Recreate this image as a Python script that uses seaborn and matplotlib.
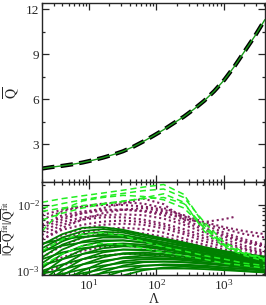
import numpy as np
import pandas as pd
import matplotlib
matplotlib.use("Agg")
import matplotlib.pyplot as plt
import seaborn as sns
from matplotlib.ticker import LogLocator, MultipleLocator, NullFormatter

# Lambda grid (top curve uses half powers of two, bottom curves powers of two)
lam_top = [2, 2.83, 4, 5.66, 8, 11.3, 16, 22.6, 32, 45.3, 64, 90.5, 128, 181,
           256, 362, 512, 724, 1024, 1448, 2048, 2896, 4096]
q_mean = [1.4, 1.5, 1.58, 1.68, 1.8, 1.95, 2.12, 2.32, 2.55, 2.85, 3.2, 3.58,
          3.98, 4.42, 4.85, 5.35, 5.9, 6.55, 7.3, 8.2, 9.2, 10.2, 11.3]

lam = [2, 4, 8, 16, 32, 64, 128, 256, 512, 1024, 2048, 4096]
lam_tail = [2, 4, 8, 16, 32, 64, 128, 256, 512, 1024, 1448]

# relative deviation, in units of 1e-3
light_dashed = [
    [11.0, 12.5, 13.8, 15.2, 16.8, 18.7, 20.5, 14.5, 5.0, 2.5, 1.8, 1.5],
    [5.9, 7.5, 9.0, 10.2, 11.3, 12.8, 14.8, 11.0, 4.0, 2.3, 1.7, 1.4],
    [8.0, 9.0, 9.8, 10.5, 11.5, 12.5, 13.0, 10.5, 4.5, 2.4, 1.8, 1.5],
    [4.0, 8.5, 11.5, 13.0, 14.0, 13.5, 12.0, 9.0, 4.5, 2.5, 1.8, 1.5],
    [9.0, 10.5, 12.0, 13.5, 15.0, 16.5, 17.5, 13.0, 5.5, 2.7, 1.9, 1.55],
    [2.0, 3.0, 3.6, 3.8, 3.4, 2.8, 2.3, 2.0, 1.7, 1.5, 1.3, 1.2],
    [1.2, 1.8, 2.4, 2.6, 2.5, 2.2, 1.9, 1.7, 1.5, 1.3, 1.2, 1.1],
]

purple_tail = [4.5, 6.0, 7.5, 9.0, 10.5, 12.5, 10.3, 6.1, 5.5, 6.1, 6.6]
purple_dotted = [
    [6.0, 8.0, 9.5, 10.5, 11.0, 10.5, 9.0, 7.0, 5.5, 4.6, 4.0, 3.6],
    [7.0, 8.5, 9.5, 10.0, 10.0, 9.5, 8.5, 6.8, 5.0, 3.8, 3.0, 2.5],
    [5.0, 7.0, 8.0, 8.5, 8.5, 8.0, 7.0, 5.5, 4.2, 3.3, 2.7, 2.3],
    [4.0, 5.5, 6.5, 7.0, 7.2, 7.0, 6.2, 5.0, 3.8, 3.0, 2.4, 2.0],
    [3.5, 5.0, 6.0, 6.5, 6.5, 6.0, 5.2, 4.3, 3.4, 2.7, 2.2, 1.9],
    [3.0, 4.2, 5.0, 5.6, 5.8, 5.5, 4.8, 3.9, 3.1, 2.5, 2.1, 1.8],
    [2.5, 3.5, 4.4, 5.0, 5.2, 5.0, 4.4, 3.6, 2.8, 2.3, 1.9, 1.7],
    [2.0, 3.0, 3.8, 4.3, 4.5, 4.3, 3.8, 3.1, 2.5, 2.1, 1.8, 1.6],
    [1.6, 2.4, 3.2, 3.7, 3.9, 3.7, 3.3, 2.8, 2.3, 1.9, 1.7, 1.5],
    [5.0, 6.5, 7.5, 8.2, 8.5, 8.2, 7.5, 6.5, 5.2, 4.3, 3.6, 3.2],
    [3.0, 4.5, 6.0, 7.5, 8.5, 9.0, 8.0, 6.0, 4.5, 3.5, 2.8, 2.4],
    [1.2, 1.6, 2.0, 2.3, 2.4, 2.3, 2.1, 1.9, 1.7, 1.5, 1.4, 1.3],
    [0.9, 1.2, 1.5, 1.7, 1.8, 1.8, 1.7, 1.6, 1.5, 1.4, 1.3, 1.2],
]

green_solid = [
    [2.5, 3.6, 4.5, 4.6, 4.2, 3.6, 3.1, 2.7, 2.3, 2.0, 1.8, 1.65],
    [2.2, 3.2, 4.0, 4.3, 4.0, 3.5, 3.0, 2.6, 2.2, 1.95, 1.75, 1.6],
    [1.9, 2.8, 3.6, 3.9, 3.8, 3.3, 2.9, 2.5, 2.15, 1.9, 1.7, 1.55],
    [1.6, 2.5, 3.2, 3.6, 3.5, 3.1, 2.7, 2.35, 2.05, 1.8, 1.6, 1.5],
    [1.3, 2.1, 2.8, 3.2, 3.2, 2.9, 2.55, 2.2, 1.95, 1.7, 1.55, 1.45],
    [1.1, 1.8, 2.4, 2.8, 2.9, 2.7, 2.4, 2.1, 1.85, 1.65, 1.5, 1.4],
    [0.9, 1.5, 2.1, 2.5, 2.6, 2.5, 2.25, 2.0, 1.75, 1.6, 1.45, 1.35],
    [0.7, 1.2, 1.8, 2.2, 2.35, 2.3, 2.1, 1.9, 1.7, 1.5, 1.4, 1.3],
    [0.6, 1.0, 1.5, 1.9, 2.1, 2.1, 1.95, 1.8, 1.6, 1.45, 1.35, 1.25],
    [0.5, 0.85, 1.25, 1.6, 1.85, 1.9, 1.8, 1.65, 1.5, 1.4, 1.3, 1.2],
    [0.5, 0.7, 1.0, 1.35, 1.6, 1.7, 1.65, 1.55, 1.45, 1.35, 1.25, 1.15],
    [0.5, 0.6, 0.85, 1.15, 1.4, 1.5, 1.5, 1.45, 1.35, 1.25, 1.2, 1.1],
    [0.5, 0.55, 0.7, 0.95, 1.2, 1.35, 1.38, 1.35, 1.28, 1.2, 1.12, 1.05],
    [0.5, 0.5, 0.6, 0.8, 1.0, 1.18, 1.25, 1.24, 1.2, 1.12, 1.06, 1.0],
    [0.5, 0.5, 0.5, 0.65, 0.85, 1.02, 1.12, 1.15, 1.12, 1.06, 1.0, 0.95],
    [2.6, 3.0, 3.3, 3.4, 3.3, 3.0, 2.7, 2.4, 2.1, 1.9, 1.7, 1.6],
    [2.0, 2.4, 2.7, 2.9, 2.9, 2.7, 2.45, 2.2, 2.0, 1.8, 1.6, 1.5],
    [1.5, 1.9, 2.2, 2.4, 2.45, 2.35, 2.2, 2.0, 1.85, 1.7, 1.55, 1.45],
    [1.2, 1.5, 1.8, 2.0, 2.1, 2.05, 1.95, 1.8, 1.7, 1.55, 1.45, 1.35],
    [1.0, 1.25, 1.5, 1.7, 1.8, 1.8, 1.75, 1.65, 1.55, 1.45, 1.35, 1.25],
    [0.9, 1.05, 1.25, 1.42, 1.55, 1.58, 1.55, 1.5, 1.42, 1.35, 1.27, 1.2],
    [0.8, 0.9, 1.05, 1.2, 1.32, 1.38, 1.38, 1.35, 1.3, 1.24, 1.18, 1.12],
    [0.7, 0.8, 0.92, 1.05, 1.15, 1.2, 1.22, 1.2, 1.17, 1.12, 1.07, 1.02],
    [0.6, 0.7, 0.8, 0.92, 1.0, 1.06, 1.08, 1.08, 1.06, 1.02, 0.98, 0.94],
]


def long_form(curves, x, start=0):
    rows = []
    for i, c in enumerate(curves):
        for xv, yv in zip(x, c):
            rows.append({"lam": xv, "err": yv * 1e-3, "curve": start + i})
    return pd.DataFrame(rows)


df_light = long_form(light_dashed, lam)
df_purple = pd.concat([long_form([purple_tail], lam_tail),
                       long_form(purple_dotted, lam, start=1)])
df_green = long_form(green_solid, lam)
df_top = pd.DataFrame({"lam": lam_top, "q": q_mean})

sns.set_theme(style="ticks")
plt.rcParams["font.family"] = ["Liberation Serif", "DejaVu Serif"]
plt.rcParams["mathtext.fontset"] = "stix"

fig = plt.figure(figsize=(2.66, 3.05), dpi=100)
ax1 = fig.add_axes([0.158, 0.403, 0.838, 0.587])
ax2 = fig.add_axes([0.158, 0.097, 0.838, 0.306], sharex=ax1)
ax1.set_xscale("log")
ax2.set_yscale("log")

purple = "#802060"
dgreen = "#008000"
lgreen = "#22ee22"

# top panel
sns.lineplot(data=df_top, x="lam", y="q", ax=ax1, color="black", lw=3.0,
             ls=(0, (3, 1.5)), sort=False)
sns.lineplot(data=df_top, x="lam", y="q", ax=ax1, color="#1a9a1a", lw=1.0,
             sort=False)

# bottom panel
sns.lineplot(data=df_purple, x="lam", y="err", units="curve", estimator=None,
             sort=False, ax=ax2, color=purple, lw=1.5, ls=(0, (1, 1.4)))
sns.lineplot(data=df_green, x="lam", y="err", units="curve", estimator=None,
             sort=False, ax=ax2, color=dgreen, lw=1.3)
sns.lineplot(data=df_light, x="lam", y="err", units="curve", estimator=None,
             sort=False, ax=ax2, color=lgreen, lw=1.1, ls=(0, (4, 2.5)))

ax1.set_xlim(2, 4096)
ax1.set_ylim(0.5, 12.4)
ax2.set_ylim(8.5e-4, 2.23e-2)

ax1.yaxis.set_major_locator(MultipleLocator(3))
ax1.yaxis.set_minor_locator(MultipleLocator(1.5))
ax1.xaxis.set_major_locator(LogLocator(base=10))
ax1.xaxis.set_minor_locator(LogLocator(base=10, subs=np.arange(2, 10)))
ax1.xaxis.set_minor_formatter(NullFormatter())
ax2.yaxis.set_minor_locator(LogLocator(base=10, subs=np.arange(2, 10)))
ax2.yaxis.set_minor_formatter(NullFormatter())

for ax in (ax1, ax2):
    ax.tick_params(which="both", direction="in", top=True, right=True,
                   labelsize=9.5, width=0.9, pad=2)
    ax.tick_params(which="major", length=5)
    ax.tick_params(which="minor", length=2.5)
    for s in ax.spines.values():
        s.set_linewidth(1.0)
ax1.tick_params(labelbottom=False)
ax2.tick_params(axis="y", labelsize=9, pad=1.5)

ax1.set_xlabel("")
ax1.set_ylabel(r"$\overline{\mathrm{Q}}$", fontsize=10)
ax1.yaxis.set_label_coords(-0.09, 0.5)
ax2.set_ylabel(r"$|\overline{\mathrm{Q}}$-$\overline{\mathrm{Q}}^{\rm fit}|"
               r"/\overline{\mathrm{Q}}^{\rm fit}$", fontsize=8.5)
ax2.yaxis.set_label_coords(-0.112, 0.5)
ax2.set_xlabel("Λ", fontsize=10, labelpad=0)

fig.savefig("out.png", dpi=100)
